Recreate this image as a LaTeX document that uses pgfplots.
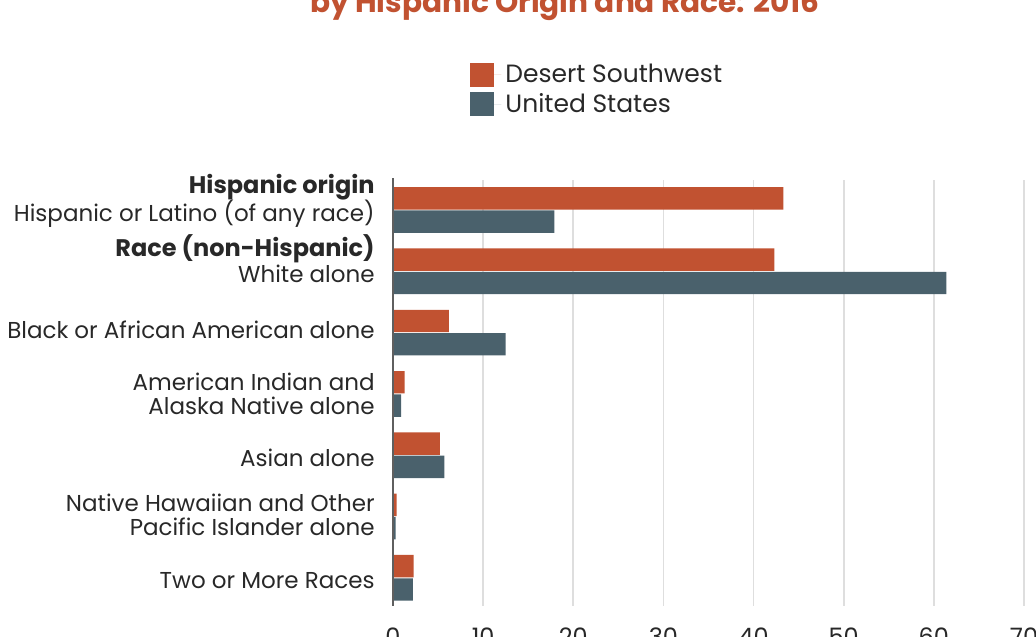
\documentclass[border=0pt]{standalone}
\usepackage{fontspec}
\setmainfont{Poppins}
\usepackage{pgfplots}
\pgfplotsset{compat=1.18}
\definecolor{dsw}{RGB}{193,82,49}
\definecolor{usa}{RGB}{74,97,108}
\definecolor{gridc}{RGB}{222,222,222}
\definecolor{axisc}{RGB}{95,95,95}
\definecolor{txt}{RGB}{40,40,40}
\begin{document}
\begin{tikzpicture}[x=1pt,y=1pt]
\useasboundingbox (0,0) rectangle (518,318);
% title (cut off by the page edge, as in the reference)
\node[anchor=base, font=\fontsize{14.8}{17}\selectfont\bfseries, text=dsw] at (282.5,311.5) {by Hispanic Origin and Race: 2016};
\begin{axis}[
    at={(196.5pt,15pt)}, anchor=south west,
    scale only axis, width=315.5pt, height=213pt,
    xmin=0, xmax=70, ymin=-0.49, ymax=6.46,
    y dir=reverse,
    axis line style={draw=none},
    ytick=\empty,
    xtick={0,10,...,70},
    xmajorgrids, grid style={gridc, line width=0.8pt},
    major tick length=0pt,
    tick label style={font=\fontsize{12}{14}\selectfont, text=txt},
    xticklabel style={yshift=-7.2pt},
    /pgf/number format/assume math mode=true,
    clip=false,
    legend style={at={(0.122,1.283)}, anchor=north west, draw=none, fill=none,
        inner sep=0pt, row sep=0pt, font=\fontsize{12.5}{14}\selectfont, text=txt},
    legend cell align=left,
]
\addplot[xbar, bar width=11.2pt, fill=dsw, draw=none,
    legend image code/.code={\fill[dsw] (0pt,-6pt) rectangle (12pt,6pt); \path (0pt,0pt) -- (15.5pt,0pt);}]
    coordinates {(43.3,-0.19) (42.3,0.81) (6.2,1.81) (1.3,2.81) (5.2,3.81) (0.4,4.81) (2.3,5.81)};
\addlegendentry{Desert Southwest}
\addplot[xbar, bar width=11.2pt, fill=usa, draw=none,
    legend image code/.code={\fill[usa] (0pt,-6pt) rectangle (12pt,6pt); \path (0pt,0pt) -- (15.5pt,0pt);}]
    coordinates {(17.9,0.19) (61.4,1.19) (12.5,2.19) (0.9,3.19) (5.7,4.19) (0.3,5.19) (2.2,6.19)};
\addlegendentry{United States}
\draw[axisc, line width=1pt] (axis cs:0,-0.52) -- (axis cs:0,6.46);
% category labels
\begin{scope}[every node/.style={anchor=mid east, font=\fontsize{11.5}{13}\selectfont, text=txt, inner sep=0pt, xshift=-9pt, yshift=-1.3pt}]
\node[font=\fontsize{12}{14}\selectfont\bfseries] at (axis cs:0,-0.408) {Hispanic origin};
\node at (axis cs:0,0.048) {Hispanic or Latino (of any race)};
\node[font=\fontsize{12}{14}\selectfont\bfseries] at (axis cs:0,0.619) {Race (non-Hispanic)};
\node at (axis cs:0,1.043) {White alone};
\node at (axis cs:0,1.957) {Black or African American alone};
\node at (axis cs:0,2.82) {American Indian and};
\node at (axis cs:0,3.21) {Alaska Native alone};
\node at (axis cs:0,4.06) {Asian alone};
\node at (axis cs:0,4.78) {Native Hawaiian and Other};
\node at (axis cs:0,5.17) {Pacific Islander alone};
\node at (axis cs:0,6.05) {Two or More Races};
\end{scope}
\end{axis}
\end{tikzpicture}
\end{document}
